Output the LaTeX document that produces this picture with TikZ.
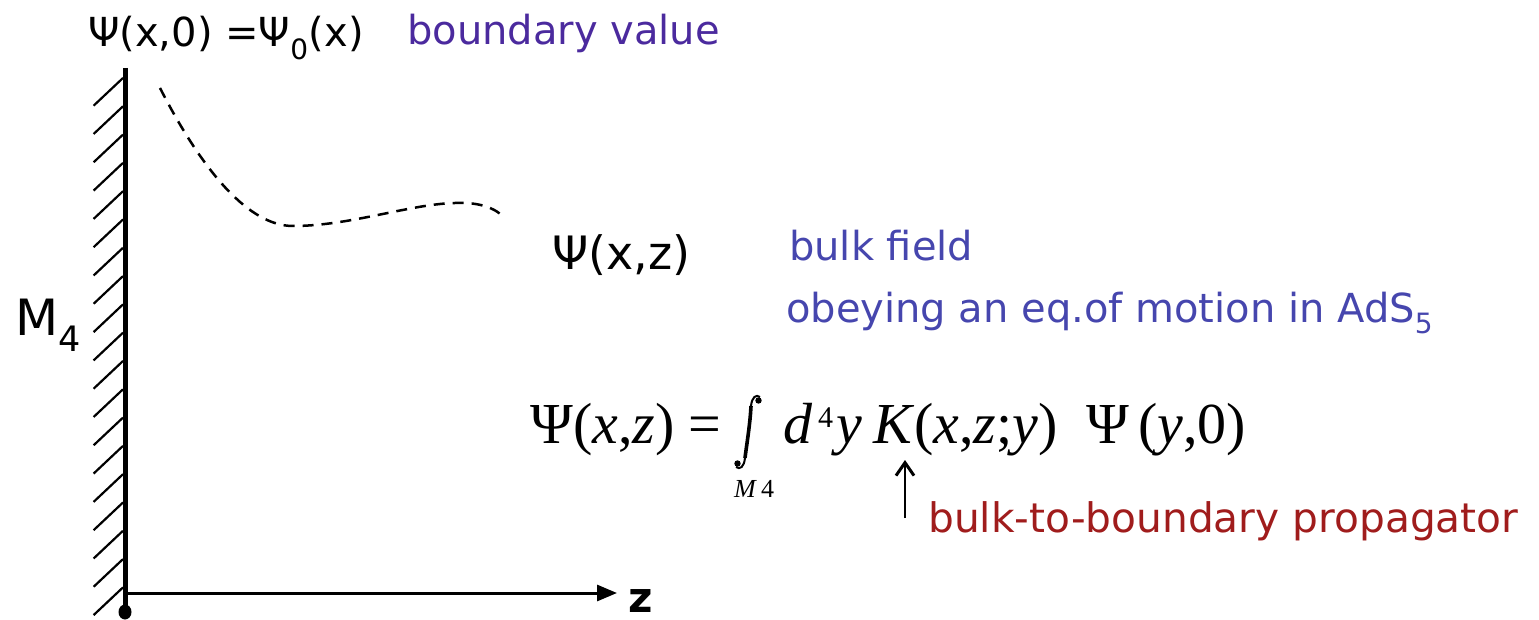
\documentclass[tikz,border=0pt]{standalone}
\usepackage{fontspec}
\setmainfont{Liberation Serif}
\newfontfamily\lab{DejaVu Sans}
\usetikzlibrary{arrows.meta}
\definecolor{bvpurple}{RGB}{75,42,158}
\definecolor{bfblue}{RGB}{70,70,174}
\definecolor{prred}{RGB}{160,28,28}
\tikzset{
  lbl/.style={inner sep=0pt, anchor=base west, font=\lab\fontsize{40}{48}\selectfont},
  eqn/.style={inner sep=0pt, anchor=base west, font=\fontsize{58}{64}\selectfont},
  hatch/.style={line width=2.2pt},
  wall/.style={line width=5pt},
}
\begin{document}
\begin{tikzpicture}[x=1pt,y=-1pt]
\useasboundingbox (0,0) rectangle (1539,620);
% wall and hatches
\coordinate (wtop) at (125,68);
\coordinate (orig) at (125,612);
\coordinate (axend) at (617,593);
\coordinate (axstart) at (125,593);
\draw[wall] (wtop) -- (orig);
\foreach \k in {0,...,18} \draw[hatch] (123,78+28.3*\k) -- ++(-29.4,27.7);
\fill (orig) ellipse (6.5 and 7.5);
% axis
\draw[line width=3pt,-{Triangle[length=20pt,width=16pt]}] (axstart) -- (axend);
\node[lbl, font=\lab\bfseries\fontsize{42}{48}\selectfont] (zlab) at (628,612) {z};
% dashed curve
\draw[line width=2.5pt, dash pattern=on 11pt off 8pt] (160,88) .. controls (204,174) and (250,226) .. (293,226) .. controls (350,226) and (410,204) .. (455,203) .. controls (480,202) and (495,208) .. (505,218);
% labels
\node[lbl] (title) at (88,47) {Ψ(x,0) =Ψ\textsubscript{0}(x)};
\node[lbl, text=bvpurple] (bv) at (407,45) {boundary value};
\node[lbl, font=\lab\fontsize{46}{52}\selectfont] (psixz) at (552,270) {Ψ(x,z)};
\node[lbl, text=bfblue] (bf) at (789,261) {bulk field};
\node[lbl, text=bfblue] (eom) at (786,322) {obeying an eq.of motion in AdS\textsubscript{5}};
\node[lbl, font=\lab\fontsize{50}{56}\selectfont] (m4) at (15,335) {M\textsubscript{4}};
% equation
\node[eqn] (eql) at (530,443) {Ψ(\textit{x},\textit{z}) =};
% integral sign drawn
\coordinate (inttop) at (751,406);
\coordinate (intbot) at (745,458);
\draw[line width=3.6pt] (inttop) .. controls (750,425) and (747,442) .. (intbot);
\draw[line width=2pt] (inttop) .. controls (752,397) and (756,394) .. (760,397);
\draw[line width=2pt] (intbot) .. controls (744,467) and (740,470) .. (736,467);
\fill (758.5,400.5) circle (3.2);
\fill (737.5,463.5) circle (3.2);
\node[inner sep=0pt, anchor=base west, font=\fontsize{26}{30}\selectfont] (intsub) at (734,497) {\textit{M}\hspace{4pt}4};
\node[eqn] (eqd) at (783,443) {\textit{d}};
\node[eqn, font=\fontsize{30}{32}\selectfont] (eqsup) at (818,427) {4};
\node[eqn] (eqy) at (836,443) {\textit{y}};
\node[eqn] (eqK) at (873,443) {\textit{K}(\textit{x},\textit{z};\textit{y})};
\node[eqn] (eqpsi) at (1086,443) {Ψ};
\node[eqn] (eqarg) at (1138,443) {(\textit{y},0)};
% propagator
\coordinate (arrbot) at (905,518);
\coordinate (arrtop) at (905,460);
\draw[line width=2pt,-{Straight Barb[length=13pt,width=18pt,line width=3pt]}] (arrbot) -- (arrtop);
\node[lbl, text=prred, font=\lab\fontsize{40.7}{48}\selectfont] (prop) at (928,532) {bulk-to-boundary propagator};
\end{tikzpicture}
\end{document}
